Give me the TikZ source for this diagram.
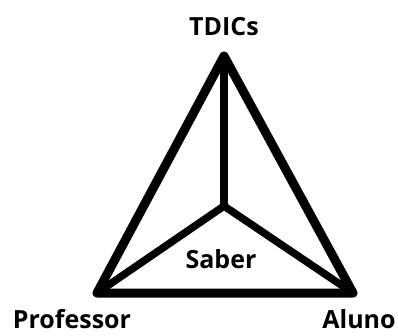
\documentclass[tikz,border=0pt]{standalone}
\usepackage{fontspec}
\setmainfont{Open Sans}
\usepackage{xcolor}
\usepackage{tikz}
\definecolor{Ink}{HTML}{000000}

\begin{document}
\begin{tikzpicture}[
  x=1pt, y=-1pt,
  edge/.style={draw=Ink, line width=9pt, line join=round, line cap=round},
  spoke/.style={draw=Ink, line width=7.5pt, line cap=round},
  label/.style={font=\fontsize{25}{29}\selectfont\bfseries, text=Ink, inner sep=0pt, anchor=base}
]
\useasboundingbox (0,0) rectangle (398,335);

\coordinate (top) at (224,56);
\coordinate (left) at (97,293);
\coordinate (right) at (353,293);
\coordinate (mid) at (224,206);

\draw[edge] (top) -- (right) -- (left) -- cycle;
\draw[spoke] (top) -- (mid);
\draw[spoke] (left) -- (mid);
\draw[spoke] (right) -- (mid);

\node[label] (tdics) at (224,35) {TDICs};
\node[label] (professor) at (72,328) {Professor};
\node[label] (aluno) at (359,328) {Aluno};
\node[label] (saber) at (221,268) {Saber};
\end{tikzpicture}
\end{document}
